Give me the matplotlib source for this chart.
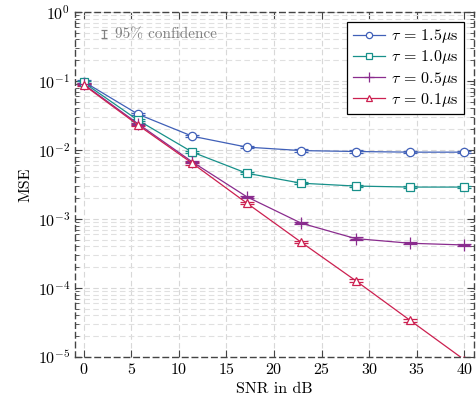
import numpy as np
import matplotlib
matplotlib.use("Agg")
import matplotlib.pyplot as plt
from matplotlib.lines import Line2D
from matplotlib.ticker import LogLocator, NullFormatter

plt.rcParams['font.family'] = 'serif'
plt.rcParams['font.serif'] = ['cmr10']
plt.rcParams['mathtext.fontset'] = 'cm'
plt.rcParams['axes.formatter.use_mathtext'] = True
plt.rcParams['axes.unicode_minus'] = False

# data
snr = [0, 5.71, 11.43, 17.14, 22.86, 28.57, 34.29, 40]
mse_15 = [0.098, 0.033, 0.0158, 0.0110, 0.0098, 0.0095, 0.0093, 0.0093]
mse_10 = [0.095, 0.027, 0.0093, 0.0046, 0.0033, 0.0030, 0.0029, 0.0029]
mse_05 = [0.090, 0.024, 0.0067, 0.0021, 0.00087, 0.00052, 0.000445, 0.00042]
mse_01 = [0.088, 0.023, 0.0064, 0.0017, 0.00046, 0.000128, 0.000034, 0.0000091]

labels = [r'$\tau\,=\,1.5\mu$s', r'$\tau\,=\,1.0\mu$s',
          r'$\tau\,=\,0.5\mu$s', r'$\tau\,=\,0.1\mu$s']
colors = ['#4060b8', '#17908a', '#8a2c8e', '#cc2050']
markers = ['o', 's', '+', '^']
series = [mse_15, mse_10, mse_05, mse_01]

fig = plt.figure(figsize=(4.76, 4.05), dpi=100)
ax = fig.add_axes([0.1576, 0.1185, 0.838, 0.852])

handles = []
for y, lab, c, m in zip(series, labels, colors, markers):
    y = np.array(y)
    face = 'white' if m != '+' else c
    ms = 6 if m != '+' else 8
    ax.errorbar(snr, y, yerr=0.04 * y, color=c, marker=m, markersize=ms,
                markerfacecolor=face, markeredgecolor=c,
                markeredgewidth=0.9, linewidth=0.9, capsize=5, elinewidth=0.9,
                capthick=0.9)
    handles.append(Line2D([], [], color=c, marker=m, markersize=ms - 1.5,
                          markerfacecolor=face, markeredgecolor=c,
                          markeredgewidth=0.9, linewidth=0.9, label=lab))

ax.set_yscale('log')
ax.set_xlim(-0.9, 41)
ax.set_ylim(1e-5, 1)
ax.set_xticks(np.arange(0, 41, 5))
ax.yaxis.set_major_locator(LogLocator(base=10, numticks=10))
ax.yaxis.set_minor_locator(LogLocator(base=10, subs=np.arange(2, 10), numticks=10))
ax.yaxis.set_minor_formatter(NullFormatter())

ax.grid(True, which='major', color='#d8d8d8', linestyle=(0, (5, 3)), linewidth=0.8)
ax.grid(True, which='minor', axis='y', color='#e0e0e0', linestyle=(0, (5, 3)), linewidth=0.8)
ax.set_axisbelow(True)

for sp in ax.spines.values():
    sp.set_linestyle((0, (4, 3)))
    sp.set_color('#444444')
    sp.set_linewidth(1.0)

ax.tick_params(which='both', direction='in', top=True, right=True, labelsize=11.5,
               color='#444444')
ax.tick_params(which='major', length=5)
ax.tick_params(which='minor', length=3)

ax.set_xlabel('SNR in dB', fontsize=11.5)
ax.set_ylabel('MSE', fontsize=11.5)

# confidence marker
ax.errorbar([0.072], [0.936], yerr=0.011, transform=ax.transAxes, color='#808080',
            capsize=2.5, linewidth=0.9, capthick=0.9)
ax.text(0.1, 0.936, '95% confidence', transform=ax.transAxes, color='#808080',
        fontsize=11, va='center', ha='left')

leg = ax.legend(handles=handles, loc='upper right', fontsize=11.5, frameon=True,
                fancybox=False, edgecolor='black', framealpha=1,
                borderaxespad=0.6, borderpad=0.35, handlelength=2.0,
                handletextpad=0.4, labelspacing=0.2)
leg.get_frame().set_linewidth(0.9)

fig.savefig('out.png', dpi=100)
